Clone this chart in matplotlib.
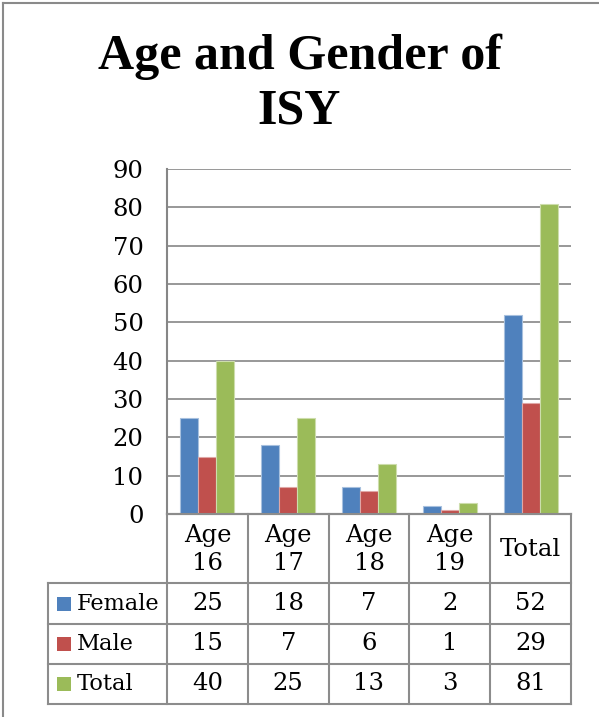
import matplotlib
matplotlib.use("Agg")
import matplotlib.pyplot as plt
import matplotlib.transforms as mtransforms
from matplotlib.lines import Line2D
from matplotlib.patches import Rectangle
import numpy as np

# ---- data ----
categories = ["Age\n16", "Age\n17", "Age\n18", "Age\n19", "Total"]
series_names = ["Female", "Male", "Total"]
female = [25, 18, 7, 2, 52]
male = [15, 7, 6, 1, 29]
total = [40, 25, 13, 3, 81]
yticks = [0, 10, 20, 30, 40, 50, 60, 70, 80, 90]
title = "Age and Gender of\nISY"

colors = ["#4F81BD", "#C0504D", "#9BBB59"]
edges = ["#A7C0DE", "#DFA7A6", "#CDDDAC"]
grid_c = "#868686"
serif = ["DejaVu Serif"]
fs = 17.5

W, H = 599, 717
fig = plt.figure(figsize=(W / 100, H / 100), dpi=100)
ax_l, ax_r, ax_t, ax_b = 167, 571, 169, 514
ax = fig.add_axes([ax_l / W, (H - ax_b) / H, (ax_r - ax_l) / W, (ax_b - ax_t) / H])

x = np.arange(len(categories))
bw = 1 / 4.5
for i, vals in enumerate([female, male, total]):
    ax.bar(x + (i - 1) * bw, vals, width=bw, color=colors[i], edgecolor=edges[i],
           linewidth=0.8, zorder=3)

ax.set_xlim(-0.5, len(categories) - 0.5)
ax.set_ylim(0, 90)
ax.set_yticks(yticks)
ax.set_yticklabels([str(t) for t in yticks], family=serif, fontsize=fs)
ax.tick_params(axis="y", length=0, pad=17)
ax.set_xticks([])
ax.yaxis.grid(True, color=grid_c, linewidth=1.2, zorder=0)
for s in ["top", "right"]:
    ax.spines[s].set_visible(False)
for s in ["left", "bottom"]:
    ax.spines[s].set_color(grid_c)
    ax.spines[s].set_linewidth(1.5)

# ---- data table ----
px_per_unit = (ax_r - ax_l) / len(categories)
def xd(px):
    return -0.5 + (px - ax_l) / px_per_unit
def yf(py):
    return (ax_b - py) / (ax_b - ax_t)

trans = mtransforms.blended_transform_factory(ax.transData, ax.transAxes)
row_edges_px = [514, 583, 624, 664, 704]
table_left = xd(48)
lc = "#8C8C8C"
lw = 1.5

def line(x0, x1, y0, y1):
    ax.add_line(Line2D([x0, x1], [y0, y1], transform=trans, color=lc, lw=lw,
                       clip_on=False, zorder=4))

# horizontal lines
line(-0.5, 4.5, yf(row_edges_px[0]), yf(row_edges_px[0]))
for py in row_edges_px[1:]:
    line(table_left, 4.5, yf(py), yf(py))
# vertical lines
for k in range(len(categories) + 1):
    line(k - 0.5, k - 0.5, yf(row_edges_px[0]), yf(row_edges_px[-1]))
line(table_left, table_left, yf(row_edges_px[1]), yf(row_edges_px[-1]))

# header text
hy = yf((row_edges_px[0] + row_edges_px[1]) / 2 + 1)
for k, c in enumerate(categories):
    ax.text(k, hy, c, transform=trans, ha="center", va="center", family=serif,
            fontsize=fs, linespacing=1.25)

# rows
for r, (name, vals) in enumerate(zip(series_names, [female, male, total])):
    cy = yf((row_edges_px[r + 1] + row_edges_px[r + 2]) / 2)
    for k, v in enumerate(vals):
        ax.text(k, cy, str(v), transform=trans, ha="center", va="center",
                family=serif, fontsize=fs)
    ksz = 14
    ax.add_patch(Rectangle((xd(57), cy - (ksz / 2) / (ax_b - ax_t)), ksz / px_per_unit,
                           ksz / (ax_b - ax_t), transform=trans, facecolor=colors[r],
                           edgecolor="none", clip_on=False, zorder=4))
    ax.text(xd(77), cy, name, transform=trans, ha="left", va="center",
            family=serif, fontsize=16.2)

# title
fig.text(0.5, 1 - 84 / H, title, ha="center", va="center", family=["Liberation Serif"],
         fontweight="bold", fontsize=36, linespacing=1.25)

# chart-area border (left and top)
fig.add_artist(Line2D([2.5 / W, 2.5 / W], [0, 1 - 2.5 / H], color="#8A8A8A", lw=1.5))
fig.add_artist(Line2D([2.5 / W, 1], [1 - 2.5 / H, 1 - 2.5 / H], color="#8A8A8A", lw=1.5))

fig.savefig("out.png", dpi=100)
